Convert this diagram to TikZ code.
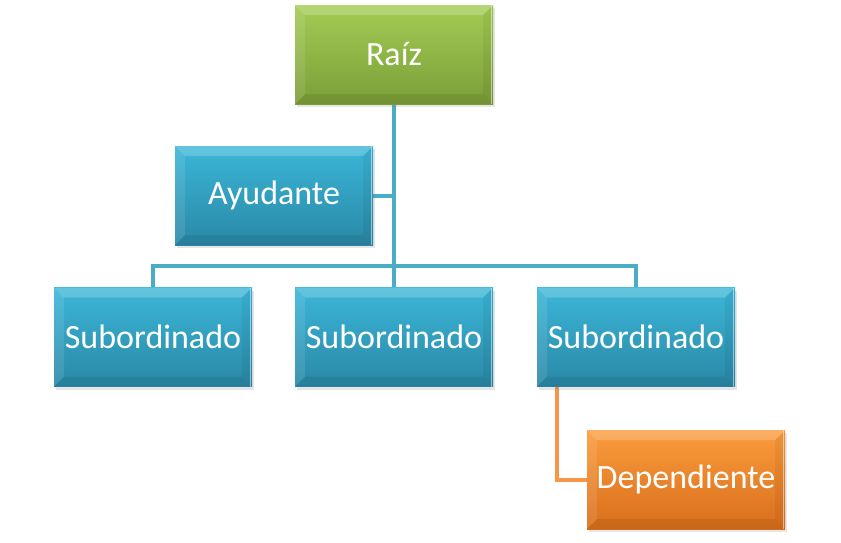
\documentclass[tikz,border=0pt]{standalone}
\usepackage{fontspec}
\setmainfont{Carlito}
\usetikzlibrary{shadows,backgrounds}
\definecolor{bluetop}{HTML}{3BB6D8}
\definecolor{bluebot}{HTML}{2A88A6}
\definecolor{greentop}{HTML}{A3CC54}
\definecolor{greenbot}{HTML}{7B9E38}
\definecolor{orangetop}{HTML}{FA9C3C}
\definecolor{orangebot}{HTML}{D96E1C}
\definecolor{bluelink}{HTML}{4BACC6}
\definecolor{orangelink}{HTML}{F79646}
\tikzset{
  x=1pt,y=1pt,
  box/.style={rectangle, minimum width=198pt, minimum height=99pt, inner sep=0pt,
    text=white, font=\fontsize{34}{40}\selectfont,
    drop shadow={opacity=0.2, shadow xshift=2pt, shadow yshift=-3pt},
    path picture={
      \coordinate (bl) at (path picture bounding box.south west);
      \coordinate (tr) at (path picture bounding box.north east);
      \fill[white,opacity=0.2] (bl |- tr) -- (tr) -- ([shift={(-10pt,-10pt)}]tr) -- ([shift={(10pt,-10pt)}]bl |- tr) -- cycle;
      \fill[white,opacity=0.1] (bl) -- (bl |- tr) -- ([shift={(10pt,-10pt)}]bl |- tr) -- ([shift={(10pt,10pt)}]bl) -- cycle;
      \fill[black,opacity=0.05] (tr) -- (tr |- bl) -- ([shift={(-10pt,10pt)}]tr |- bl) -- ([shift={(-10pt,-10pt)}]tr) -- cycle;
      \fill[black,opacity=0.07] (bl) -- (tr |- bl) -- ([shift={(-10pt,10pt)}]tr |- bl) -- ([shift={(10pt,10pt)}]bl) -- cycle;
      \draw[white,opacity=0.5,line width=1pt] ([xshift=-2pt]tr) -- ([xshift=-2pt]tr |- bl);
    }},
  bluebox/.style={box, top color=bluetop, bottom color=bluebot},
  greenbox/.style={box, top color=greentop, bottom color=greenbot},
  orangebox/.style={box, top color=orangetop, bottom color=orangebot},
  link/.style={draw=bluelink, line width=4pt},
  olink/.style={draw=orangelink, line width=4pt},
}
\begin{document}
\begin{tikzpicture}
\useasboundingbox (0,0) rectangle (841,-542);
\node[greenbox] (r) at (394,-54.5) {Raíz};
\node[bluebox] (a) at (274,-195.5) {Ayudante};
\node[bluebox] (s1) at (153,-337) {Subordinado};
\node[bluebox] (s2) at (394,-337) {Subordinado};
\node[bluebox] (s3) at (636,-337) {Subordinado};
\node[orangebox] (d) at (686,-479.5) {Dependiente};
\coordinate (bus) at (394,-266);
\begin{scope}[on background layer]
\draw[link] (r.south) -- (s2.north);
\draw[link] (s1.north) |- (bus) -| (s3.north);
\draw[link] (a.east) -- (a.east -| r.south);
\draw[olink] ([xshift=20pt]s3.south west) |- (d.west);
\end{scope}
\end{tikzpicture}
\end{document}
